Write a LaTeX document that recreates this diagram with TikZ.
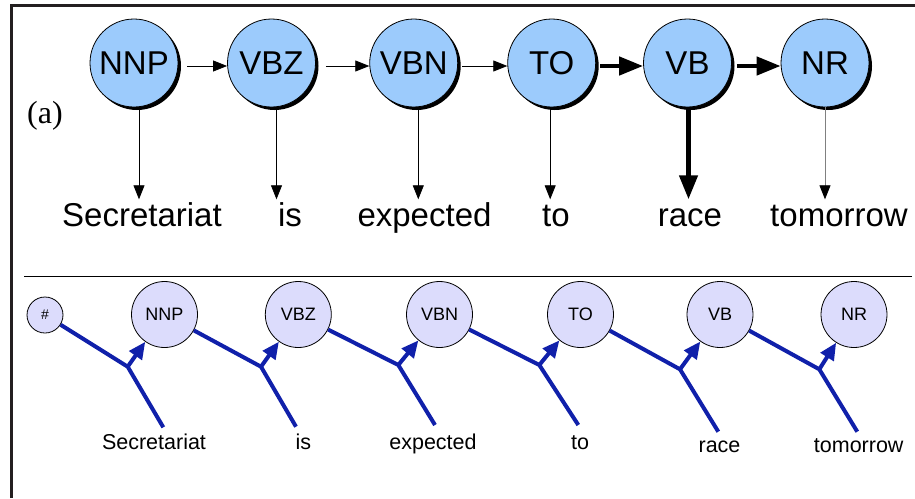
\documentclass[tikz,border=0pt]{standalone}
\usepackage{fontspec}
\setmainfont{Liberation Sans}
\newfontfamily\serifa{Liberation Serif}
\usetikzlibrary{arrows.meta,shadows}
\definecolor{topfill}{HTML}{9CCBFC}
\definecolor{botfill}{HTML}{DCDCFC}
\definecolor{blueline}{HTML}{1020AA}
\definecolor{framec}{HTML}{231F20}
\begin{document}
\begin{tikzpicture}[x=1pt,y=-1pt,
  topnode/.style={circle, draw=black, line width=0.8pt, fill=topfill, minimum size=88pt, inner sep=0pt,
    font=\fontsize{33}{36}\selectfont,
    drop shadow={shadow xshift=3pt, shadow yshift=-3pt, opacity=1, fill=black}},
  topword/.style={anchor=base, font=\fontsize{33}{36}\selectfont, text height=24pt, inner sep=3pt},
  thinarr/.style={line width=0.8pt, -{Triangle[length=14pt,width=11pt,color=black]}},
  thickarr/.style={line width=4.5pt, -{Triangle[length=24pt,width=18pt]}},
  botnode/.style={circle, draw=black, line width=0.8pt, fill=botfill, minimum size=66pt, inner sep=0pt,
    font=\fontsize{18}{20}\selectfont},
  botword/.style={anchor=base, font=\fontsize{21.5}{24}\selectfont},
  blueln/.style={draw=blueline, line width=4pt},
  bluearr/.style={blueln, -{Triangle[length=17pt,width=15pt]}}
]
\useasboundingbox (0,0) rectangle (915,498);
% frame
\draw[framec, line width=3pt] (11,498) -- (11,5.5) -- (915,5.5);
\draw[black, line width=1pt] (24,276) -- (912,276);

% ---------- panel (a) ----------
\node[topnode] (t1) at (134,63) {NNP};
\node[topnode] (t2) at (271.5,63) {VBZ};
\node[topnode] (t3) at (413.7,63) {VBN};
\node[topnode] (t4) at (551.7,63) {TO};
\node[topnode] (t5) at (687.5,63) {VB};
\node[topnode] (t6) at (825,63) {NR};

\node[anchor=base, font=\serifa\fontsize{32}{36}\selectfont] (lab) at (45,123) {(a)};

\node[topword] (w1) at (142,226.5) {Secretariat};
\node[topword] (w2) at (290,226.5) {is};
\node[topword] (w3) at (424.5,226.5) {expected};
\node[topword] (w4) at (556,226.5) {to};
\node[topword] (w5) at (690,226.5) {race};
\node[topword] (w6) at (839,226.5) {tomorrow};

\draw[thinarr, shorten <=9pt] ([yshift=-3pt]t1.east) -- ([yshift=-3pt]t2.west);
\draw[thinarr, shorten <=10pt] ([yshift=-3pt]t2.east) -- ([yshift=-3pt]t3.west);
\draw[thinarr, shorten <=4pt] ([yshift=-3pt]t3.east) -- ([yshift=-3pt]t4.west);
\draw[thickarr, shorten <=4pt] ([yshift=-3pt]t4.east) -- ([yshift=-3pt]t5.west);
\draw[thickarr, shorten <=5pt] ([yshift=-3pt]t5.east) -- ([yshift=-3pt]t6.west);

\draw[thinarr] ([xshift=5pt]t1.south) -- ([xshift=5pt]t1.south |- w1.north);
\draw[thinarr] ([xshift=5pt]t2.south) -- ([xshift=5pt]t2.south |- w2.north);
\draw[thinarr] ([xshift=4.6pt]t3.south) -- ([xshift=4.6pt]t3.south |- w3.north);
\draw[thinarr] ([xshift=-1.5pt]t4.south) -- ([xshift=-1.5pt]t4.south |- w4.north);
\draw[thickarr] ([xshift=1pt]t5.south) -- ([xshift=1pt]t5.south |- w5.north);
\draw[thinarr, draw=gray] (t6.south) -- (t6.south |- w6.north);

% ---------- panel (b) ----------
\node[botnode, minimum size=36pt, font=\fontsize{14}{16}\selectfont] (h) at (45,315) {\#};
\node[botnode] (b1) at (164.5,314.5) {NNP};
\node[botnode] (b2) at (298.3,314.5) {VBZ};
\node[botnode] (b3) at (439.5,314.5) {VBN};
\node[botnode] (b4) at (580.5,314.5) {TO};
\node[botnode] (b5) at (720,314.5) {VB};
\node[botnode] (b6) at (854,314.5) {NR};

\node[botword] (v1) at (154,449.3) {Secretariat};
\node[botword] (v2) at (303.3,449.3) {is};
\node[botword] (v3) at (433,449.3) {expected};
\node[botword] (v4) at (580,449.3) {to};
\node[botword] (v5) at (719.5,452.7) {race};
\node[botword] (v6) at (858.7,452.7) {tomorrow};

\coordinate (j1) at (127.7,366.7);
\coordinate (j2) at (261,366.7);
\coordinate (j3) at (398.3,365);
\coordinate (j4) at (539.3,365);
\coordinate (j5) at (680,369.3);
\coordinate (j6) at (819.3,369.3);
\coordinate (e1) at (163.3,427.3);
\coordinate (e2) at (296,426.7);
\coordinate (e3) at (435,425);
\coordinate (e4) at (578.3,425);
\coordinate (e5) at (718.3,431.7);
\coordinate (e6) at (857.3,431.7);

\draw[blueln] (h) -- (j1) -- (e1);
\draw[blueln] (b1) -- (j2) -- (e2);
\draw[blueln] (b2) -- (j3) -- (e3);
\draw[blueln] (b3) -- (j4) -- (e4);
\draw[blueln] (b4) -- (j5) -- (e5);
\draw[blueln] (b5) -- (j6) -- (e6);

\draw[bluearr] (j1) -- (b1);
\draw[bluearr] (j2) -- (b2);
\draw[bluearr] (j3) -- (b3);
\draw[bluearr] (j4) -- (b4);
\draw[bluearr] (j5) -- (b5);
\draw[bluearr] (j6) -- (b6);
\end{tikzpicture}
\end{document}
